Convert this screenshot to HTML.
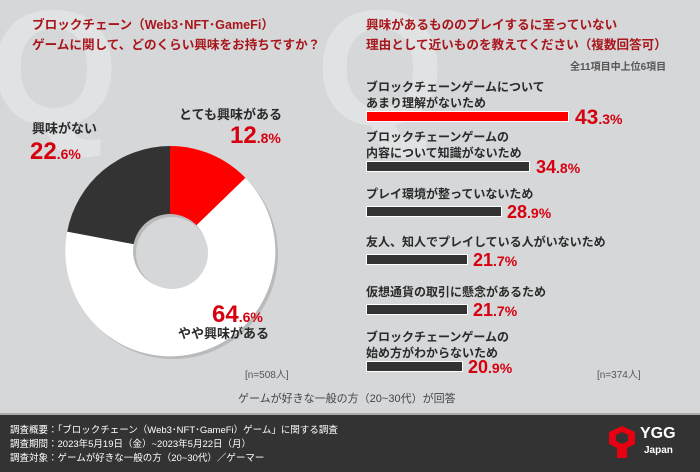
<!DOCTYPE html>
<html><head><meta charset="utf-8"><style>
body{margin:0;width:700px;height:470px;background:#d5d7d9;font-family:"Liberation Sans","Noto Sans CJK JP",sans-serif;position:relative;overflow:hidden}
.a{position:absolute;white-space:nowrap}
.t{color:#a8161b;font-weight:bold;font-size:12.6px;line-height:20px}
.l{color:#2a2a2a;font-weight:bold;font-size:12px;line-height:16px}
.p{color:#d7000f;font-weight:bold;font-size:21px;line-height:22px}
.p small{font-size:14px}
.bar{position:absolute;left:366px;height:11px;background:#333;border:1px solid #fff;box-sizing:border-box}
.q{position:absolute;font-family:"Liberation Sans",sans-serif;font-weight:bold;font-size:165px;color:#e1e2e3;line-height:1}
.f{color:#fff;font-size:9.5px;line-height:14px}
</style></head><body>
<div class="q" style="left:-10px;top:-14px">Q</div>
<div class="q" style="left:316px;top:-14px">Q</div>
<div class="a t" style="left:32px;top:15px">ブロックチェーン（Web3･NFT･GameFi）<br>ゲームに関して、どのくらい興味をお持ちですか？</div>
<div class="a t" style="left:366px;top:15px">興味があるもののプレイするに至っていない<br>理由として近いものを教えてください（複数回答可）</div>
<div class="a" style="left:570px;top:58px;font-size:10px;color:#555;font-weight:bold">全11項目中上位6項目</div>

<svg class="a" style="left:0;top:0" width="350" height="400">
<circle cx="173" cy="254" r="105" fill="#b8babc"/>
<path d="M170 251 L170 146 A105 105 0 0 1 245.4 177.9 Z" fill="#ff0000"/>
<path d="M170 251 L245.4 177.9 A105 105 0 1 1 67.2 231.6 Z" fill="#fff"/>
<path d="M170 251 L67.2 231.6 A105 105 0 0 1 170 146 Z" fill="#333"/>
<circle cx="170" cy="251" r="37" fill="#b8babc"/>
<circle cx="172" cy="253" r="36" fill="#d5d7d9"/>
</svg>
<div class="a l" style="left:179px;top:107px;font-size:13px">とても興味がある</div>
<div class="a p" style="left:230px;top:125px;font-size:24px">12<small>.8%</small></div>
<div class="a l" style="left:32px;top:121px;font-size:13px">興味がない</div>
<div class="a p" style="left:30px;top:141px;font-size:24px">22<small>.6%</small></div>
<div class="a p" style="left:212px;top:304px;font-size:24px">64<small>.6%</small></div>
<div class="a l" style="left:178px;top:326px;font-size:13px">やや興味がある</div>
<div class="a" style="left:245px;top:366px;font-size:10px;color:#555">[n=508人]</div>
<div class="a" style="left:597px;top:366px;font-size:10px;color:#555">[n=374人]</div>
<div class="a" style="left:238px;top:390px;font-size:11px;color:#444">ゲームが好きな一般の方（20~30代）が回答</div>

<div class="a l" style="left:366px;top:79px">ブロックチェーンゲームについて<br>あまり理解がないため</div>
<div class="bar" style="top:111px;width:203px;background:#f00"></div>
<div class="a p" style="left:575px;top:107px">43<small>.3%</small></div>
<div class="a l" style="left:366px;top:129px">ブロックチェーンゲームの<br>内容について知識がないため</div>
<div class="bar" style="top:161px;width:164px"></div>
<div class="a p" style="left:536px;top:156px;font-size:18px">34<small>.8%</small></div>
<div class="a l" style="left:366px;top:186px">プレイ環境が整っていないため</div>
<div class="bar" style="top:206px;width:136px"></div>
<div class="a p" style="left:507px;top:201px;font-size:18px">28<small>.9%</small></div>
<div class="a l" style="left:366px;top:234px">友人、知人でプレイしている人がいないため</div>
<div class="bar" style="top:254px;width:102px"></div>
<div class="a p" style="left:473px;top:249px;font-size:18px">21<small>.7%</small></div>
<div class="a l" style="left:366px;top:284px">仮想通貨の取引に懸念があるため</div>
<div class="bar" style="top:304px;width:102px"></div>
<div class="a p" style="left:473px;top:299px;font-size:18px">21<small>.7%</small></div>
<div class="a l" style="left:366px;top:329px">ブロックチェーンゲームの<br>始め方がわからないため</div>
<div class="bar" style="top:361px;width:97px"></div>
<div class="a p" style="left:468px;top:356px;font-size:18px">20<small>.9%</small></div>

<div class="a" style="left:0;top:413px;width:700px;height:57px;background:#333;border-top:2px solid #aaa"></div>
<div class="a f" style="left:10px;top:424px">調査概要：「ブロックチェーン（Web3･NFT･GameFi）ゲーム」に関する調査<br>調査期間：2023年5月19日（金）~2023年5月22日（月）<br>調査対象：ゲームが好きな一般の方（20~30代）／ゲーマー</div>
<svg class="a" style="left:607px;top:426px" width="30" height="34"><path d="M2 6 L15 0 L28 6 L28 18 L20 22 L20 32 L10 32 L10 22 L2 18 Z M9 9 L9 15 L15 18 L21 15 L21 9 L15 6 Z" fill="#e60012" fill-rule="evenodd"/></svg>
<div class="a" style="left:640px;top:425px;color:#fff;font-weight:bold;font-size:16px;line-height:17px">YGG</div>
<div class="a" style="left:644px;top:445px;color:#fff;font-weight:bold;font-size:10px">Japan</div>
</body></html>
